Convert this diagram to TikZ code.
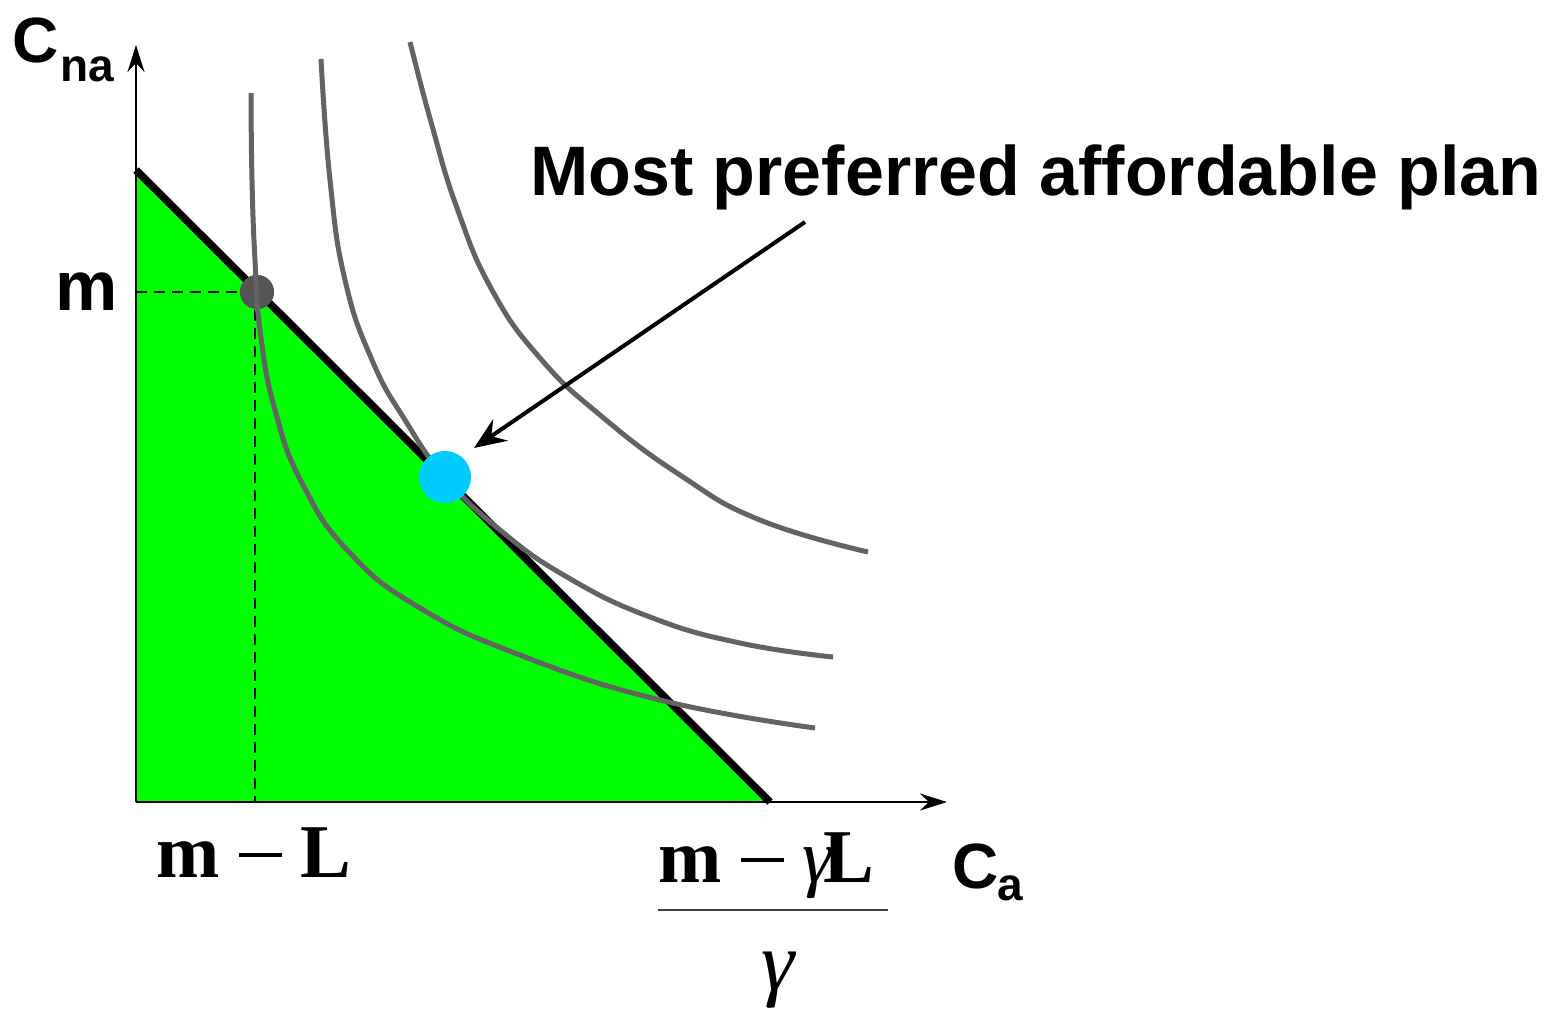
\documentclass[tikz,border=0pt]{standalone}
\usepackage{fontspec}
\setmainfont{Liberation Serif}
\newfontfamily\lsans{Liberation Sans}
\usetikzlibrary{arrows.meta}
\definecolor{budgetgreen}{HTML}{00FF00}
\definecolor{curvegrey}{HTML}{636363}
\definecolor{dotgrey}{HTML}{555555}
\definecolor{dotblue}{HTML}{00CCFF}
\newcommand{\longminus}{\hspace{19pt}\rule[20pt]{43pt}{4.5pt}\hspace{19pt}}
\begin{document}
\begin{tikzpicture}[x=1pt,y=-1pt,
  curve/.style={draw=curvegrey, line width=5pt},
  lbl/.style={inner sep=0pt, anchor=base west},
  axis/.style={line width=2.5pt, -{Stealth[length=27pt,width=17pt,inset=9pt]}},
  guide/.style={line width=2.5pt, dash pattern=on 11pt off 7pt},
  pointer/.style={line width=4pt, -{Stealth[length=32pt,width=26pt,inset=11pt]}},
  dot/.style={circle, inner sep=0pt, draw=none}]
\useasboundingbox (0,0) rectangle (1551,1013);
% key coordinates
\coordinate (O) at (136,802);
\coordinate (Ytop) at (136,45);
\coordinate (Xend) at (947,802);
\coordinate (Btop) at (136,170);
\coordinate (Bbot) at (770,802);
\coordinate (Mleft) at (136,292);
\coordinate (Mfoot) at (255,802);
% budget set
\fill[budgetgreen] (Btop) -- (Bbot) -- (O) -- cycle;
% axes
\draw[axis] (O) -- (Ytop);
\draw[axis] (O) -- (Xend);
% guides
\node[dot, minimum size=34pt, fill=dotgrey] (kink) at (257,292) {};
\draw[guide] (Mleft) -- (kink.center);
\draw[guide] (kink.center) ++(-2,0) -- (Mfoot);
% budget line
\draw[line width=7.5pt] (Btop) -- (Bbot);
\fill[dotgrey] (kink) circle (17pt);
% indifference curves
\draw[curve] plot[smooth, tension=0.8] coordinates {(251,93) (252,180) (255,260) (260,330) (275,410) (303,485) (350,553) (420,608) (520,655) (660,700) (815,728)};
\draw[curve] plot[smooth, tension=0.8] coordinates {(321,59) (330,180) (345,280) (372,360) (405,420) (445,477) (500,530) (567,577) (650,617) (740,643) (833,657)};
\draw[curve] plot[smooth, tension=0.8] coordinates {(410,42) (431,122) (457,208) (492,290) (540,358) (600,415) (680,475) (760,520) (868,552)};
% optimum
\node[dot, minimum size=52pt, fill=dotblue] (best) at (445,477) {};
% annotation
\node[lbl] (title) at (530,195) {\lsans\bfseries\fontsize{70}{80}\selectfont Most preferred affordable plan};
\coordinate (tail) at (805,222);
\coordinate (tip) at (474,448);
\draw[pointer] (tail) -- (tip);
% axis labels
\node[lbl] (cna) at (12,62) {\lsans\bfseries\fontsize{64}{70}\selectfont C\kern2pt\raisebox{-19pt}{\fontsize{46}{50}\selectfont na}};
\node[lbl] (ca) at (952,888) {\lsans\bfseries\fontsize{64}{70}\selectfont C\kern-1pt\raisebox{-12pt}{\fontsize{46}{50}\selectfont a}};
\node[lbl] (mlbl) at (55,310) {\lsans\bfseries\fontsize{70}{80}\selectfont m};
\node[lbl] (mL) at (156,877) {\bfseries\fontsize{76}{90}\selectfont m\longminus L};
\node[lbl] (num) at (658,882) {\bfseries\fontsize{76}{90}\selectfont m\longminus{\mdseries\itshape γ}\kern-9pt L};
\coordinate (fracL) at (658,910);
\coordinate (fracR) at (888,910);
\draw[line width=1.5pt, draw=black!75] (fracL) -- (fracR);
\node[inner sep=0pt, anchor=base] (den) at (778,990) {\fontsize{84}{90}\selectfont\itshape γ};
\end{tikzpicture}
\end{document}
